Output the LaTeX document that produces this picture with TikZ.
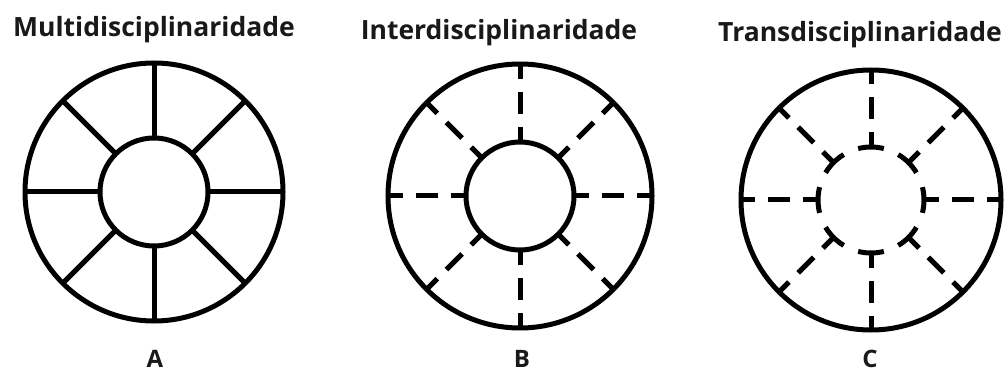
\documentclass[tikz,border=0pt]{standalone}
\usepackage{fontspec}
\setmainfont{Open Sans}
\begin{document}
\begin{tikzpicture}[x=1pt,y=-1pt,line width=5pt,
  title/.style={font=\bfseries\fontsize{26.5}{30}\selectfont,anchor=base,inner sep=0pt,text=black!90},
  letter/.style={font=\bfseries\fontsize{24}{26}\selectfont,anchor=base,inner sep=0pt,text=black!90},
  ring/.style={draw=black,line width=5pt},
  spoke/.style={draw=black,line width=5pt}]
\useasboundingbox (0,0) rectangle (1007,374);
\fill[white] (0,0) rectangle (1007,374);
% centres
\coordinate (A) at (154,192);
\coordinate (B) at (520,196);
\coordinate (C) at (871,200);
% titles and letters
\node[title] (tA) at (154,37) {Multidisciplinaridade};
\node[title] (tB) at (499,40) {Interdisciplinaridade};
\node[title] (tC) at (860,42) {Transdisciplinaridade};
\node[letter] (lA) at (155,367) {A};
\node[letter] (lB) at (522,367) {B};
\node[letter] (lC) at (870,367) {C};
% A: solid
\draw[ring] (A) circle[radius=129pt];
\draw[ring] (A) circle[radius=54pt];
\foreach \a in {0,45,...,315}
  \draw[spoke] ([shift={(\a:54pt)}]A) -- ([shift={(\a:129pt)}]A);
% B: dashed spokes
\draw[ring] (B) circle[radius=132pt];
\draw[ring] (B) circle[radius=54pt];
\foreach \a in {0,45,...,315}{
  \draw[spoke] ([shift={(\a:54pt)}]B) -- ([shift={(\a:69pt)}]B);
  \draw[spoke] ([shift={(\a:82pt)}]B) -- ([shift={(\a:104pt)}]B);
  \draw[spoke] ([shift={(\a:117pt)}]B) -- ([shift={(\a:132pt)}]B);
}
% C: dashed spokes ending in T bars
\draw[ring] (C) circle[radius=130pt];
\foreach \a in {0,45,...,315}{
  \draw[spoke] ([shift={({\a-14}:53pt)}]C) arc[start angle={\a-14},end angle={\a+14},radius=53pt];
  \draw[spoke] ([shift={(\a:53pt)}]C) -- ([shift={(\a:68pt)}]C);
  \draw[spoke] ([shift={(\a:81pt)}]C) -- ([shift={(\a:103pt)}]C);
  \draw[spoke] ([shift={(\a:116pt)}]C) -- ([shift={(\a:130pt)}]C);
}
\end{tikzpicture}
\end{document}
